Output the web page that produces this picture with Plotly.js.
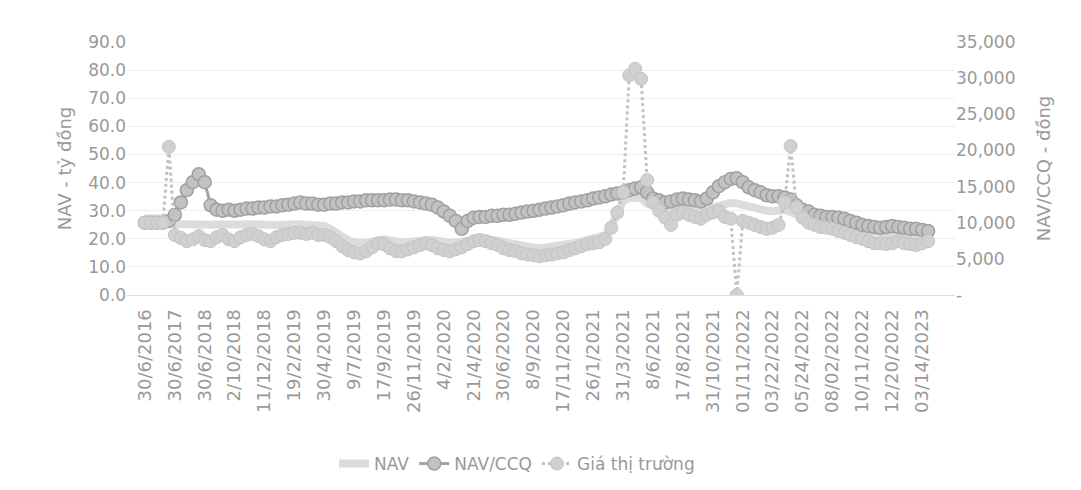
<!DOCTYPE html>
<html>
<head>
<meta charset="utf-8">
<script src="https://cdn.plot.ly/plotly-3.0.1.min.js"></script>
<style>html,body{margin:0;padding:0;background:#fff;}#chart{width:1081px;height:490px;}</style>
</head>
<body>
<div id="chart"></div>
<script>
// Tick labels on the category axis (one every 5 points)
const tickLabels = ["30/6/2016","30/6/2017","30/6/2018","2/10/2018","11/12/2018","19/2/2019","30/4/2019","9/7/2019","17/9/2019","26/11/2019","4/2/2020","21/4/2020","30/6/2020","8/9/2020","17/11/2020","26/1/2021","31/3/2021","8/6/2021","17/8/2021","31/10/2021","01/11/2022","03/22/2022","05/24/2022","08/02/2022","10/11/2022","12/20/2022","03/14/2023"];
const pointsPerLabel = 5;

// NAV - tỷ đồng (left axis)
const navTy = [27.2,27.2,27.2,27.2,
 25.3,25.2,25.0,24.8,24.6,24.7,24.9,25.0,25.1,25.0,24.8,24.7,24.9,25.1,25.2,25.0,24.8,24.6,24.8,25.0,25.2,25.3,25.2,25.0,24.9,24.8,24.6,
 23.5,22.0,20.5,19.5,18.8,
 18.5,18.6,19.0,19.6,19.8,19.4,18.9,18.7,18.9,19.2,19.5,19.8,19.6,19.2,18.8,18.6,18.8,19.1,19.5,19.9,
 20.1,20.0,19.7,19.2,18.7,18.3,17.9,17.5,17.1,16.8,16.6,16.8,17.0,17.3,17.6,18.0,18.5,19.0,19.6,20.1,
 20.5,21.3,24.5,29.0,33.5,
 34.5,34.8,34.5,
 32.5,31.5,30.8,30.2,29.8,30.5,31.0,30.8,30.5,30.2,30.6,31.2,31.8,32.4,32.8,32.6,32.0,31.4,30.8,30.4,30.0,29.8,29.9,30.2,
 29.5,28.5,27.5,26.8,26.2,25.8,25.4,25.0,24.6,24.2,23.8,23.3,22.9,22.5,22.1,21.8,21.5,21.4,21.6,21.3,21.1,20.9,21.0,21.2];

// NAV/CCQ - đồng (right axis)
const navCCQ = [10000,10000,10000,10000,
 10250,11100,12800,14500,15600,16700,15600,12400,
 11800,11650,11800,11650,11800,11950,11950,12100,12100,12250,12250,12400,12500,
 12650,12800,12650,12650,12500,12500,12650,12650,12800,12800,12950,12950,13100,13100,13100,13100,13200,13200,13100,13100,12950,12800,12650,12500,
 12100,11550,10950,10250,9150,10250,
 10700,10800,10800,10950,10950,11100,11100,11250,11400,11550,11650,11800,11950,12100,12250,12400,12650,12800,12950,13100,13350,13500,13650,13900,14050,14200,
 14500,14750,14900,14200,13350,13100,12800,12950,13200,13350,13200,13100,12950,
 13350,14200,15050,15600,16050,16150,15600,14900,14500,14200,13800,13650,13650,13500,13200,
 12400,11800,11550,11100,10950,10800,10800,10700,10550,10250,10000,9700,9550,9400,9300,9400,9550,9400,9300,9150,9150,9000,8850];

// Giá thị trường - đồng (right axis)
const marketPrice = [10000,10000,10000,10000,20500,
 8300,7900,7450,7700,8150,7600,7450,8000,8300,7700,
 7450,8000,8300,8450,8150,7700,7450,8000,8300,8450,
 8600,8600,8450,8600,8300,8300,8000,7450,6750,6200,
 5900,5750,6050,6600,7150,7050,6450,6050,6050,6300,
 6600,6900,7150,6900,6450,6200,6050,6300,6600,7050,
 7450,7600,7450,7150,6900,6450,6200,6050,5750,5600,
 5500,5350,5500,5600,5750,5900,6200,6450,6750,7050,
 7150,7300,7750,9300,11400,14200,30400,31300,29900,15900,
 12800,11650,10700,9700,11100,11400,11100,10800,10550,11100,
 11400,11650,10800,10550,0,10250,10000,9700,9400,9150,
 9300,9700,12800,20600,12100,10700,10000,9700,9400,9300,
 9150,8850,8600,8300,8000,7750,7450,7150,7150,7050,
 7150,7450,7150,7050,6900,7150,7450];

const leftTickVals = [0,10,20,30,40,50,60,70,80,90];
const rightTickVals = [0,5000,10000,15000,20000,25000,30000,35000];
const rightTickLabels = ["-","5,000","10,000","15,000","20,000","25,000","30,000","35,000"];

const xIdx = navTy.map((_, i) => i);
const tickVals = tickLabels.map((_, i) => i * pointsPerLabel);

const FONT = 'DejaVu Sans';
const TXT = '#999999';

const traces = [
  {
    name: 'NAV', x: xIdx, y: navTy, yaxis: 'y', type: 'scatter', mode: 'lines',
    line: {color: '#dcdcdc', width: 8}
  },
  {
    name: 'NAV/CCQ', x: xIdx, y: navCCQ, yaxis: 'y2', type: 'scatter', mode: 'lines+markers',
    line: {color: '#a3a3a3', width: 3},
    marker: {symbol: 'circle', size: 13, color: '#c2c2c2', line: {color: '#a0a0a0', width: 1.5}}
  },
  {
    name: 'Giá thị trường', x: xIdx, y: marketPrice, yaxis: 'y2', type: 'scatter', mode: 'lines+markers',
    line: {color: '#c2c2c2', width: 3, dash: 'dot'},
    marker: {symbol: 'circle', size: 13, color: '#d0d0d0', line: {color: '#c4c4c4', width: 1}}
  }
];

const layout = {
  width: 1081, height: 490,
  paper_bgcolor: '#ffffff', plot_bgcolor: '#ffffff',
  font: {family: FONT, color: TXT, size: 17},
  margin: {l: 127, r: 126, t: 42, b: 195, autoexpand: false},
  showlegend: true,
  legend: {orientation: 'h', x: 0.471, xanchor: 'center', y: -0.668, yanchor: 'middle',
           font: {family: FONT, size: 17, color: TXT}, bgcolor: 'rgba(0,0,0,0)'},
  xaxis: {
    range: [-3, 135.5], tickmode: 'array', tickvals: tickVals, ticktext: tickLabels,
    tickangle: -90, tickfont: {family: FONT, size: 18, color: TXT}, ticklabelstandoff: 6,
    showgrid: false, zeroline: false, showline: true, linecolor: '#dcdcdc', linewidth: 1,
    ticks: '', automargin: false
  },
  yaxis: {
    range: [0, 90], tickmode: 'array', tickvals: leftTickVals, tickformat: '.1f',
    tickfont: {family: FONT, size: 17, color: TXT},
    showgrid: true, gridcolor: '#efefef', zeroline: false, showline: false, ticks: '',
    title: {text: 'NAV - tỷ đồng', font: {family: FONT, size: 18, color: TXT}, standoff: 11},
    automargin: false
  },
  yaxis2: {
    overlaying: 'y', side: 'right', range: [0, 35000], tickmode: 'array',
    tickvals: rightTickVals, ticktext: rightTickLabels,
    tickfont: {family: FONT, size: 17, color: TXT},
    showgrid: false, zeroline: false, showline: false, ticks: '',
    title: {text: 'NAV/CCQ - đồng', font: {family: FONT, size: 18, color: TXT}, standoff: 22},
    automargin: false
  }
};

Plotly.newPlot('chart', traces, layout, {displayModeBar: false, staticPlot: true});
</script>
</body>
</html>
